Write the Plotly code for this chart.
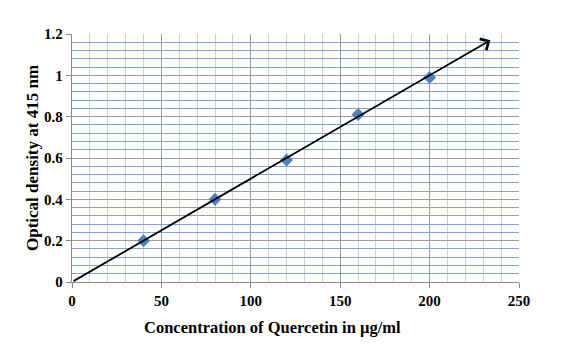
import plotly.graph_objects as go

# Data
concentration = [40, 80, 120, 160, 200]
optical_density = [0.20, 0.40, 0.59, 0.81, 0.99]
trend_x = [0, 234]
trend_y = [0, 1.17]
x_ticks = [0, 50, 100, 150, 200, 250]
y_ticks = [0, 0.2, 0.4, 0.6, 0.8, 1.0, 1.2]
y_tick_labels = ["0", "0.2", "0.4", "0.6", "0.8", "1", "1.2"]

font_family = "Liberation Serif, Times New Roman, serif"

fig = go.Figure()
fig.add_trace(go.Scatter(
    x=concentration, y=optical_density, mode="markers",
    marker=dict(symbol="diamond", size=10, color="#4F81BD"),
    showlegend=False, hoverinfo="x+y"))

fig.add_annotation(
    x=trend_x[1], y=trend_y[1], ax=trend_x[0], ay=trend_y[0],
    xref="x", yref="y", axref="x", ayref="y",
    showarrow=True, arrowhead=4, arrowsize=1.4, arrowwidth=1.8,
    arrowcolor="black", text="", standoff=0, startstandoff=0)

# x-axis title (offset left of plot centre as in the original)
fig.add_annotation(
    text="Concentration of Quercetin in µg/ml",
    xref="paper", yref="paper", x=0.4486, y=-0.185,
    xanchor="center", yanchor="middle", showarrow=False,
    font=dict(size=16.5, family=font_family, weight="bold", color="black"))

fig.update_layout(
    width=569, height=345,
    margin=dict(l=64, r=58, t=26, b=71),
    paper_bgcolor="white", plot_bgcolor="white",
    font=dict(family=font_family, color="black"),
    xaxis=dict(
        range=[0, 250], tickvals=x_ticks,
        showgrid=True, gridcolor="#9A9A9A", gridwidth=1.3,
        minor=dict(dtick=10, tick0=0, showgrid=True, gridcolor="#CFCFCF", gridwidth=1.3),
        zeroline=False, showline=True, linecolor="#8A8A8A", linewidth=1.3,
        ticks="outside", ticklen=5, tickcolor="#8A8A8A",
        tickfont=dict(size=15, family=font_family, weight="bold"),
        fixedrange=True),
    yaxis=dict(
        range=[0, 1.2], tickvals=y_ticks, ticktext=y_tick_labels,
        showgrid=True, gridcolor="#9A9A9A", gridwidth=1.3,
        minor=dict(dtick=0.04, tick0=0, showgrid=True, gridcolor="#7FA5D5", gridwidth=1.4),
        zeroline=False, showline=True, linecolor="#8A8A8A", linewidth=1.3,
        ticks="outside", ticklen=5, tickcolor="#8A8A8A",
        tickfont=dict(size=15, family=font_family, weight="bold"),
        title=dict(text="Optical density at 415 nm",
                   font=dict(size=17, family=font_family, weight="bold"), standoff=1),
        fixedrange=True),
)

fig.write_html("out.html")
